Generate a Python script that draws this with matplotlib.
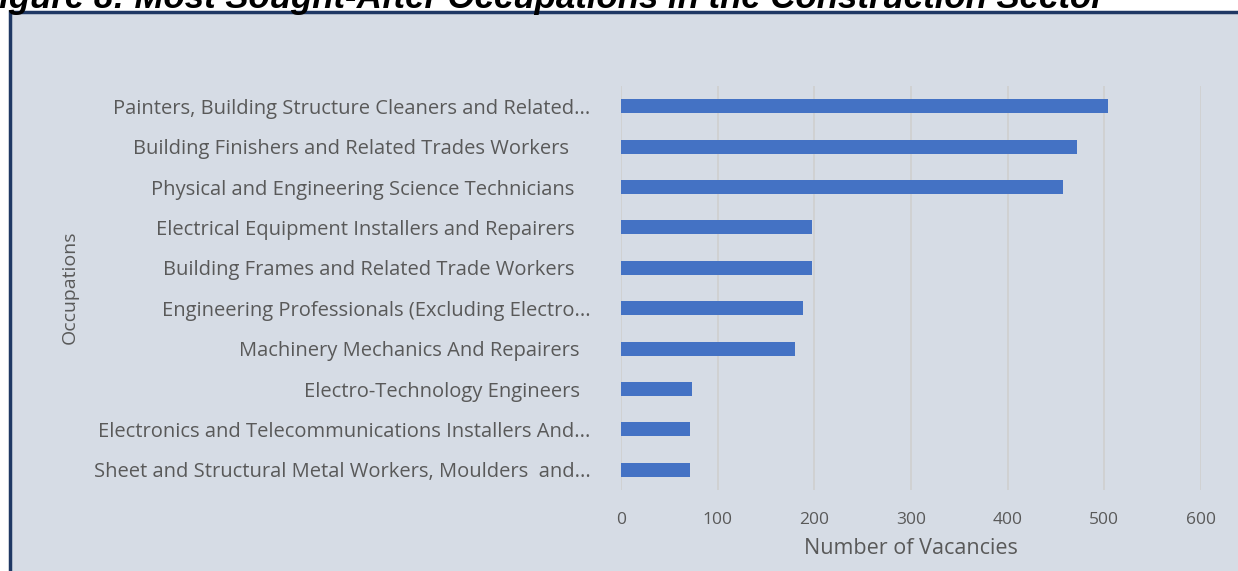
import matplotlib.pyplot as plt
from matplotlib.patches import Rectangle

plt.rcParams['font.family'] = ['Open Sans', 'DejaVu Sans']

# categories, top to bottom as shown
occupations = [
    'Painters, Building Structure Cleaners and Related...',
    'Building Finishers and Related Trades Workers    ',
    'Physical and Engineering Science Technicians   ',
    'Electrical Equipment Installers and Repairers   ',
    'Building Frames and Related Trade Workers   ',
    'Engineering Professionals (Excluding Electro...',
    'Machinery Mechanics And Repairers  ',
    'Electro-Technology Engineers  ',
    'Electronics and Telecommunications Installers And...',
    'Sheet and Structural Metal Workers, Moulders  and...',
]
vacancies = [504, 472, 457, 198, 198, 188, 180, 73, 71, 71]
xticks = [0, 100, 200, 300, 400, 500, 600]

title = 'Figure 8: Most Sought-After Occupations in the Construction Sector'
bg = '#D6DCE5'
bar_col = '#4472C4'
txt_col = '#595959'

fig = plt.figure(figsize=(12.38, 5.71), dpi=100)
fig.patch.set_facecolor('white')

# panel behind the chart
W, H = 1238, 571
panel = Rectangle((10 / W, -0.01), 1.0, (H - 12) / H + 0.01, transform=fig.transFigure,
                  facecolor=bg, edgecolor='#1F3864', linewidth=2.5, zorder=-5)
fig.patches.append(panel)

# title, clipped at the top edge like the source
fig.text(-22 / W, 1 - 8 / H, title, fontsize=25, fontweight='bold',
         fontstyle='italic', family=['Liberation Sans', 'DejaVu Sans'],
         va='baseline', ha='left', color='black')

ax = fig.add_axes([621 / W, (H - 490) / H, (1201 - 621) / W, 404 / H])
ax.set_facecolor('none')
y = list(range(len(occupations)))
ax.barh(y, vacancies, height=0.35, color=bar_col, zorder=3)
ax.set_ylim(len(occupations) - 0.5, -0.5)
ax.set_xlim(0, 600)
ax.set_xticks(xticks)
ax.set_yticks(y)
ax.set_yticklabels(occupations)
ax.tick_params(axis='both', length=0, labelcolor=txt_col)
ax.tick_params(axis='y', pad=22, labelsize=14.5)
ax.tick_params(axis='x', pad=16, labelsize=12.5)
ax.grid(axis='x', color='#CFCFCF', linewidth=1.2, zorder=1)
for s in ax.spines.values():
    s.set_visible(False)

ax.set_xlabel('Number of Vacancies', fontsize=15.5, color=txt_col, labelpad=7)
fig.text(70 / W, 1 - 287 / H, 'Occupations', rotation=90, fontsize=14,
         color=txt_col, ha='center', va='center')

fig.savefig('out.png', dpi=100, facecolor=fig.get_facecolor())
